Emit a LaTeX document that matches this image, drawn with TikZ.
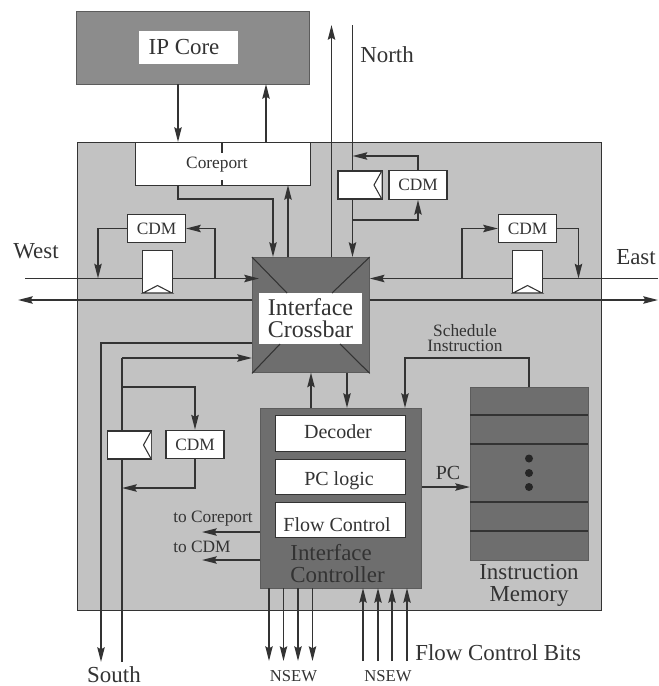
\documentclass[tikz,border=0pt]{standalone}
\usepackage{fontspec}
\setmainfont{Liberation Serif}
\usetikzlibrary{arrows.meta}
\definecolor{ink}{gray}{0.2}
\definecolor{panel}{gray}{0.76}
\definecolor{darkpanel}{gray}{0.43}
\definecolor{midpanel}{gray}{0.55}
\newcommand{\fs}[2]{\fontsize{#1}{#2}\selectfont}
\tikzset{
  tip/.tip={Stealth[length=11pt,width=5.5pt,inset=1.5pt]},
  wire/.style={draw=ink,line width=1.4pt},
  arr/.style={wire,-tip},
  thinarr/.style={draw=ink,line width=1.1pt,-tip},
  whitebox/.style={draw=ink,fill=white,line width=0.8pt,inner sep=0pt,text=ink},
  darkbox/.style={draw=ink!80,fill=darkpanel,line width=0.8pt,inner sep=0pt},
  lab/.style={inner sep=0pt,text=ink,align=center},
  big/.style={lab,font=\fs{17.2pt}{16.5pt}},
  small/.style={lab,font=\fs{13pt}{11.5pt}},
  cdmbox/.style={whitebox,minimum width=43.5pt,minimum height=21.5pt,font=\fs{13pt}{14pt}},
  ctrlbox/.style={whitebox,minimum width=98pt,minimum height=26.5pt},
  ctrltext/.style={lab,font=\fs{15pt}{16pt}},
  reg/.style={draw=ink,fill=white,line width=0.8pt,inner sep=0pt},
  notch/.style={draw=ink,fill=white,line width=0.8pt,line join=miter},
}
\begin{document}
\begin{tikzpicture}[x=0.75pt,y=-0.75pt]
\useasboundingbox (0,0) rectangle (658,686);
% panels
\node[draw=ink,fill=panel,line width=0.9pt,inner sep=0pt,minimum width=393pt,minimum height=351pt,anchor=north west] (router) at (77,142) {};
\node[darkbox,fill=midpanel,minimum width=175pt,minimum height=54.5pt,anchor=north west] (ipcore) at (76,11) {};
\node[fill=white,inner sep=0pt,minimum width=74pt,minimum height=25pt] (ipbox) at (188.5,47.5) {};
\node[lab,font=\fs{17.2pt}{18pt}] (iplabel) at (184,47.5) {IP Core};
\node[whitebox,minimum width=131.5pt,minimum height=32pt,anchor=north west] (coreport) at (134.5,142) {};
\node[lab,font=\fs{13pt}{14pt}] (corelabel) at (217,165) {Coreport};
\coordinate (tkA) at (222,142); \coordinate (tkB) at (222,153);
\coordinate (tkC) at (222,180); \coordinate (tkD) at (222,185);
\draw[ink,line width=0.8pt] (tkA) -- (tkB) (tkC) -- (tkD);
% crossbar
\node[darkbox,minimum width=87.5pt,minimum height=86.5pt,anchor=north west] (xbar) at (252,257) {};
\node[fill=white,inner sep=0pt,minimum width=77pt,minimum height=38pt] (xbarbox) at (310.5,318.5) {};
\node[lab,font=\fs{18pt}{16.5pt}] (xbarl) at (310.5,318) {Interface\\Crossbar};
\coordinate (dA) at (287,293); \coordinate (dB) at (332,293);
\coordinate (dC) at (280,344); \coordinate (dD) at (340,344);
\draw[ink,line width=0.8pt] (xbar.north west) -- (dA) (xbar.north east) -- (dB) (xbar.south west) -- (dC) (xbar.south east) -- (dD);
% controller
\node[darkbox,minimum width=121pt,minimum height=135pt,anchor=north west] (ctrl) at (260,408) {};
\node[ctrlbox] (dec) at (340.5,433.5) {};
\node[ctrlbox] (pcl) at (340.5,477) {};
\node[ctrlbox] (flow) at (340.5,520) {};
\node[ctrltext] (dect) at (338,432) {Decoder};
\node[ctrltext] (pclt) at (339,481) {PC logic};
\node[ctrltext] (flowt) at (337,525) {Flow Control};
\node[big,align=left] (ctrll) at (337.5,564) {Interface\\Controller};
% memory
\node[darkbox,minimum width=88.5pt,minimum height=130pt,anchor=north west] (imem) at (470,387) {};
\coordinate (m1l) at (470,415); \coordinate (m1r) at (588,415);
\coordinate (m2l) at (470,444); \coordinate (m2r) at (588,444);
\coordinate (m3l) at (470,502); \coordinate (m3r) at (588,502);
\coordinate (m4l) at (470,531); \coordinate (m4r) at (588,531);
\draw[ink,line width=0.8pt] (m1l) -- (m1r) (m2l) -- (m2r) (m3l) -- (m3r) (m4l) -- (m4r);
\fill[black!85] (529,458.5) circle (3pt) (529,473) circle (3pt) (529,487) circle (3pt);
\node[big] (imeml) at (529,585) {Instruction\\Memory};
% free ends
\coordinate (wIn) at (25,278.5); \coordinate (wOut) at (18,300);
\coordinate (eIn) at (658,278.5); \coordinate (eOut) at (658,300);
\coordinate (nOut) at (331.5,25); \coordinate (nIn) at (352.5,25);
\coordinate (sOut) at (101,662); \coordinate (sIn) at (122,662);
% IP core <-> coreport
\draw[arr] (178,84) -- (178,142);
\draw[arr] (266,142) -- (266,84);
\draw[arr] (178,185) |- (273,199) -- (273,257);
\draw[arr] (288,257) -- (288,185);
% north
\draw[arr] (331.5,257) -- (nOut);
\draw[wire] (nIn) -- (352.5,171);
\draw[arr] (352.5,199) -- (352.5,257);
\node[cdmbox] (cdmN) at (418,185) {CDM};
\node[reg,minimum width=33pt,minimum height=21pt] (regN) at (360,185) {};
\draw[notch] (381.5,171.5) -- (374,185) -- (381.5,198.5);
\draw[arr] (cdmN.north) |- (352.5,156);
\draw[arr] (352.5,220) -| (cdmN.south);
\node[big] (northl) at (387,55) {North};
% west
\draw[wire] (wIn) -- (143,278.5);
\node[cdmbox] (cdmW) at (156.5,228.5) {CDM};
\node[reg,minimum width=22pt,minimum height=32pt] (regW) at (157.5,271.5) {};
\draw[notch] (143,293) -- (157.5,285.5) -- (172,293) -- cycle;
\draw[arr] (172,278.5) -- (259,278.5);
\draw[arr] (cdmW.west) -| (98,278.5);
\draw[arr] (215,278.5) |- (cdmW.east);
\draw[arr] (xbar.west |- 0,300) -- (wOut);
\node[big] (westl) at (36,251) {West};
% east
\draw[arr] (542,278.5) -- (xbar.east |- 0,278.5);
\draw[wire] (eIn) -- (542,278.5);
\node[cdmbox] (cdmE) at (527.5,228.5) {CDM};
\node[reg,minimum width=22pt,minimum height=32pt] (regE) at (527.5,271.5) {};
\draw[notch] (513,293) -- (527.5,285.5) -- (542,293) -- cycle;
\draw[arr] (462,278.5) |- (cdmE.west);
\draw[arr] (cdmE.east) -| (578.5,278.5);
\draw[arr] (xbar.east |- 0,300) -- (eOut);
\node[big] (eastl) at (636,257) {East};
% south
\draw[arr] (xbar.west |- 0,343) -| (sOut);
\draw[wire] (sIn) -- (122,459);
\draw[wire] (122,431) -- (122,358);
\draw[arr] (122,358) -- (xbar.west |- 0,358);
\node[cdmbox] (cdmS) at (195,444.5) {CDM};
\node[reg,minimum width=33pt,minimum height=21pt] (regS) at (129.5,445) {};
\draw[notch] (151,431.5) -- (143.5,445) -- (151,458.5);
\draw[arr] (122,387) -| (cdmS.north);
\draw[arr] (cdmS.south) |- (122,488);
\node[big] (southl) at (114,674.5) {South};
% crossbar <-> controller
\draw[arr] (311,408) -- (311,372.5);
\draw[arr] (347,372.5) -- (347,408);
\draw[thinarr] (529,387) |- (405,358) -- (405,408);
\node[small] (sched) at (465,338) {Schedule\\Instruction};
% PC
\draw[thinarr] (ctrl.east |- 0,487) -- (imem.west |- 0,487);
\node[lab,font=\fs{15pt}{16pt}] (pcl2) at (448,473) {PC};
% to labels
\draw[thinarr] (ctrl.west |- 0,532) -- (202,532);
\draw[thinarr] (ctrl.west |- 0,560) -- (202,560);
\node[small,anchor=west] (tocore) at (173,519) {to Coreport};
\node[small,anchor=west] (tocdm) at (173,547) {to CDM};
% NSEW
\foreach \x in {269,283.5,298,312.5} \draw[thinarr] (\x,588) -- (\x,661);
\foreach \x in {363,378,392,407} \draw[thinarr] (\x,661) -- (\x,588);
\node[lab,font=\fs{12.5pt}{13pt}] (ns1) at (293.5,676) {NSEW};
\node[lab,font=\fs{12.5pt}{13pt}] (ns2) at (388,676) {NSEW};
\node[big,anchor=west] (fcb) at (415,653) {Flow Control Bits};
\end{tikzpicture}
\end{document}
